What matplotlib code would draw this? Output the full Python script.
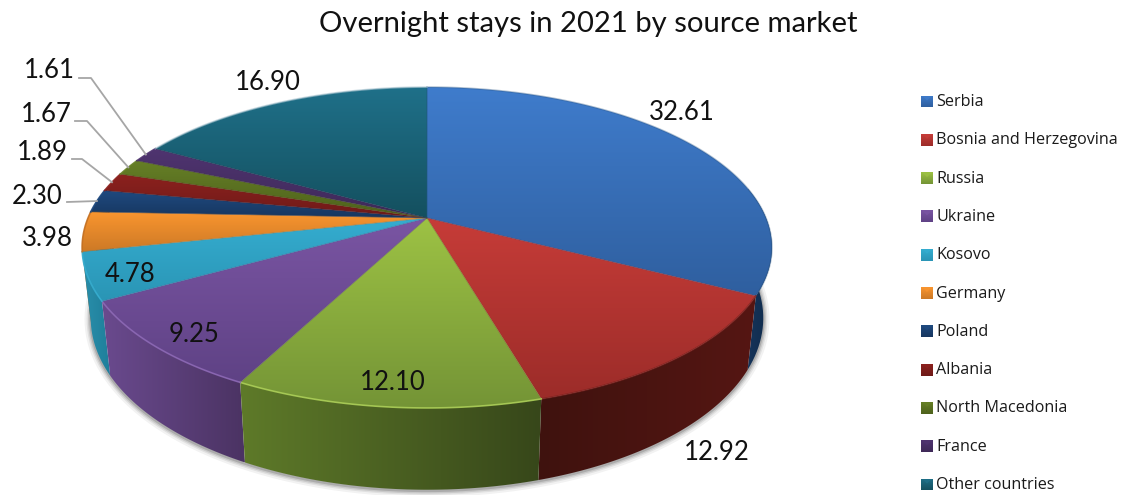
import numpy as np
import matplotlib
matplotlib.use("Agg")
import matplotlib.pyplot as plt
from matplotlib.colors import to_rgb
from matplotlib.patches import Polygon

# Data
markets = ["Serbia", "Bosnia and Herzegovina", "Russia", "Ukraine", "Kosovo", "Germany",
           "Poland", "Albania", "North Macedonia", "France", "Other countries"]
shares = np.array([32.61, 12.92, 12.10, 9.25, 4.78, 3.98, 2.30, 1.89, 1.67, 1.61, 16.90])
share_labels = ["32.61", "12.92", "12.10", "9.25", "4.78", "3.98", "2.30", "1.89", "1.67", "1.61", "16.90"]

# colours: top face (light, dark), side face (left, right), rim line
top_light = ["#3f7ccc", "#c63c38", "#9dc244", "#7a55a3", "#35add0", "#f9952f",
             "#1f4a80", "#8c211e", "#667f26", "#4f3470", "#1f7089"]
top_dark = ["#2f5f9f", "#9c2c29", "#749436", "#5f4285", "#2a95b5", "#cc7926",
            "#17365f", "#6e1a18", "#4d611c", "#3e2958", "#14505f"]
side_left = ["#17375f", "#3f120e", "#5e7a29", "#6a4a8e", "#2a8fab", "#a8641f",
             "#17365f", "#6e1a18", "#4d611c", "#3e2958", "#14505f"]
side_right = ["#0f2a4a", "#551613", "#37471a", "#4b3363", "#1f7f9b", "#a8641f",
              "#17365f", "#6e1a18", "#4d611c", "#3e2958", "#14505f"]
rim_color = ["#24507f", "#7c211e", "#a9cc55", "#8a66b3", "#35add0", "#c47022",
             "#1f4a80", "#8c211e", "#667f26", "#4f3470", "#a9c4d0"]
rim_alpha = [0.35, 0.7, 0.9, 0.9, 0.9, 0.9, 0.9, 0.9, 0.9, 0.9, 0.6]

# label centres in pixels
label_x = [682, 717, 393, 194, 130, 47, 37, 42, 46, 49, 268]
label_y = [113, 452, 382, 334, 274, 238, 196, 153, 115, 70, 83]
# leader lines: slice index -> start and elbow (x, x, y)
leaders = {6: (67, 67, 202), 7: (72, 82, 159), 8: (75, 87, 121), 9: (79, 91, 78)}

# perspective of the pie
cx, cy = 427, 218
R, H, k = 339, 155, 0.184
sx_bot, sy_bot, y_bot = 0.975, 1.07, 68.5


def top_xy(theta):
    u, v = np.sin(theta), np.cos(theta)
    w = 1 + k * v
    return cx + R * u / w, cy - H * v / w


def bottom_xy(theta):
    x, y = top_xy(theta)
    return cx + (x - cx) * sx_bot, cy + y_bot + (y - cy) * sy_bot


def gradient(ax, poly, c1, c2, horizontal, z):
    xs, ys = poly[:, 0], poly[:, 1]
    t = np.linspace(0, 1, 128)
    col = np.outer(1 - t, to_rgb(c1)) + np.outer(t, to_rgb(c2))
    img = col[np.newaxis, :, :] if horizontal else col[:, np.newaxis, :]
    im = ax.imshow(img, extent=(xs.min(), xs.max(), ys.max(), ys.min()), aspect="auto",
                   zorder=z, interpolation="bilinear")
    clip = Polygon(poly, closed=True, transform=ax.transData, fc="none", ec="none")
    ax.add_patch(clip)
    im.set_clip_path(clip)


fig = plt.figure(figsize=(11.23, 4.95), dpi=100)
ax = fig.add_axes([0, 0, 1, 1])
ax.axis("off")

edges = np.concatenate([[0], np.cumsum(shares)]) / shares.sum() * 2 * np.pi

# soft shadow round the lower edge
rim = np.linspace(np.pi * 0.38, np.pi * 1.6, 240)
bx, by = bottom_xy(rim)
for lw, a in zip([9, 6, 4, 2], [0.05, 0.07, 0.1, 0.15]):
    ax.plot(bx, by + 1, color="black", alpha=a, lw=lw, solid_capstyle="round", zorder=1)

# side faces, back to front
order = sorted(range(len(shares)), key=lambda i: -abs(np.cos((edges[i] + edges[i + 1]) / 2)) * np.sign(np.cos((edges[i] + edges[i + 1]) / 2)))
for i in order:
    th = np.linspace(edges[i], edges[i + 1], 80)
    front = np.cos(th) < 0.2
    if not front.any():
        continue
    th = th[front]
    tx, ty = top_xy(th)
    bx, by = bottom_xy(th)
    poly = np.column_stack([np.r_[tx, bx[::-1]], np.r_[ty, by[::-1]]])
    gradient(ax, poly, side_left[i], side_right[i], True, 2)

# top faces
for i in range(len(shares)):
    th = np.linspace(edges[i], edges[i + 1], 120)
    tx, ty = top_xy(th)
    poly = np.column_stack([np.r_[cx, tx], np.r_[cy, ty]])
    gradient(ax, poly, top_light[i], top_dark[i], False, 3)
    ax.plot([tx[0], cx, tx[-1]], [ty[0], cy, ty[-1]], color=top_dark[i], lw=0.5, alpha=0.5, zorder=4)
    ax.plot(tx, ty, color=rim_color[i], lw=1.2, alpha=rim_alpha[i], zorder=4)

# leader lines
mids = (edges[:-1] + edges[1:]) / 2
for i, (x0, x1, y0) in leaders.items():
    ex, ey = top_xy(mids[i])
    ax.plot([x0, x1, ex], [y0, y0, ey], color="#a6a6a6", lw=1.3, zorder=5)

# value labels
for txt, x, y in zip(share_labels, label_x, label_y):
    ax.text(x, y, txt, ha="center", va="center", fontsize=18.5, family="Lato", color="#111111", zorder=6)

ax.text(588, 24, "Overnight stays in 2021 by source market", ha="center", va="center",
        fontsize=21.1, family="Lato", color="#111111")

# legend
for i, name in enumerate(markets):
    y = 101.5 + 38.3 * i
    key = np.array([[921, y - 6], [933, y - 6], [933, y + 6], [921, y + 6]], dtype=float)
    gradient(ax, key, top_light[i], top_dark[i], False, 3)
    ax.add_patch(Polygon([[923, y - 5], [931, y - 5], [927, y - 1]], closed=True,
                         fc=top_light[i], ec="none", alpha=0.8, zorder=4))
    ax.text(936, y + 0.5, name, ha="left", va="center", fontsize=11.6, family="Open Sans", color="#1a1a1a")

ax.set_xlim(0, 1123)
ax.set_ylim(495, 0)
fig.savefig("out.png", dpi=100)
